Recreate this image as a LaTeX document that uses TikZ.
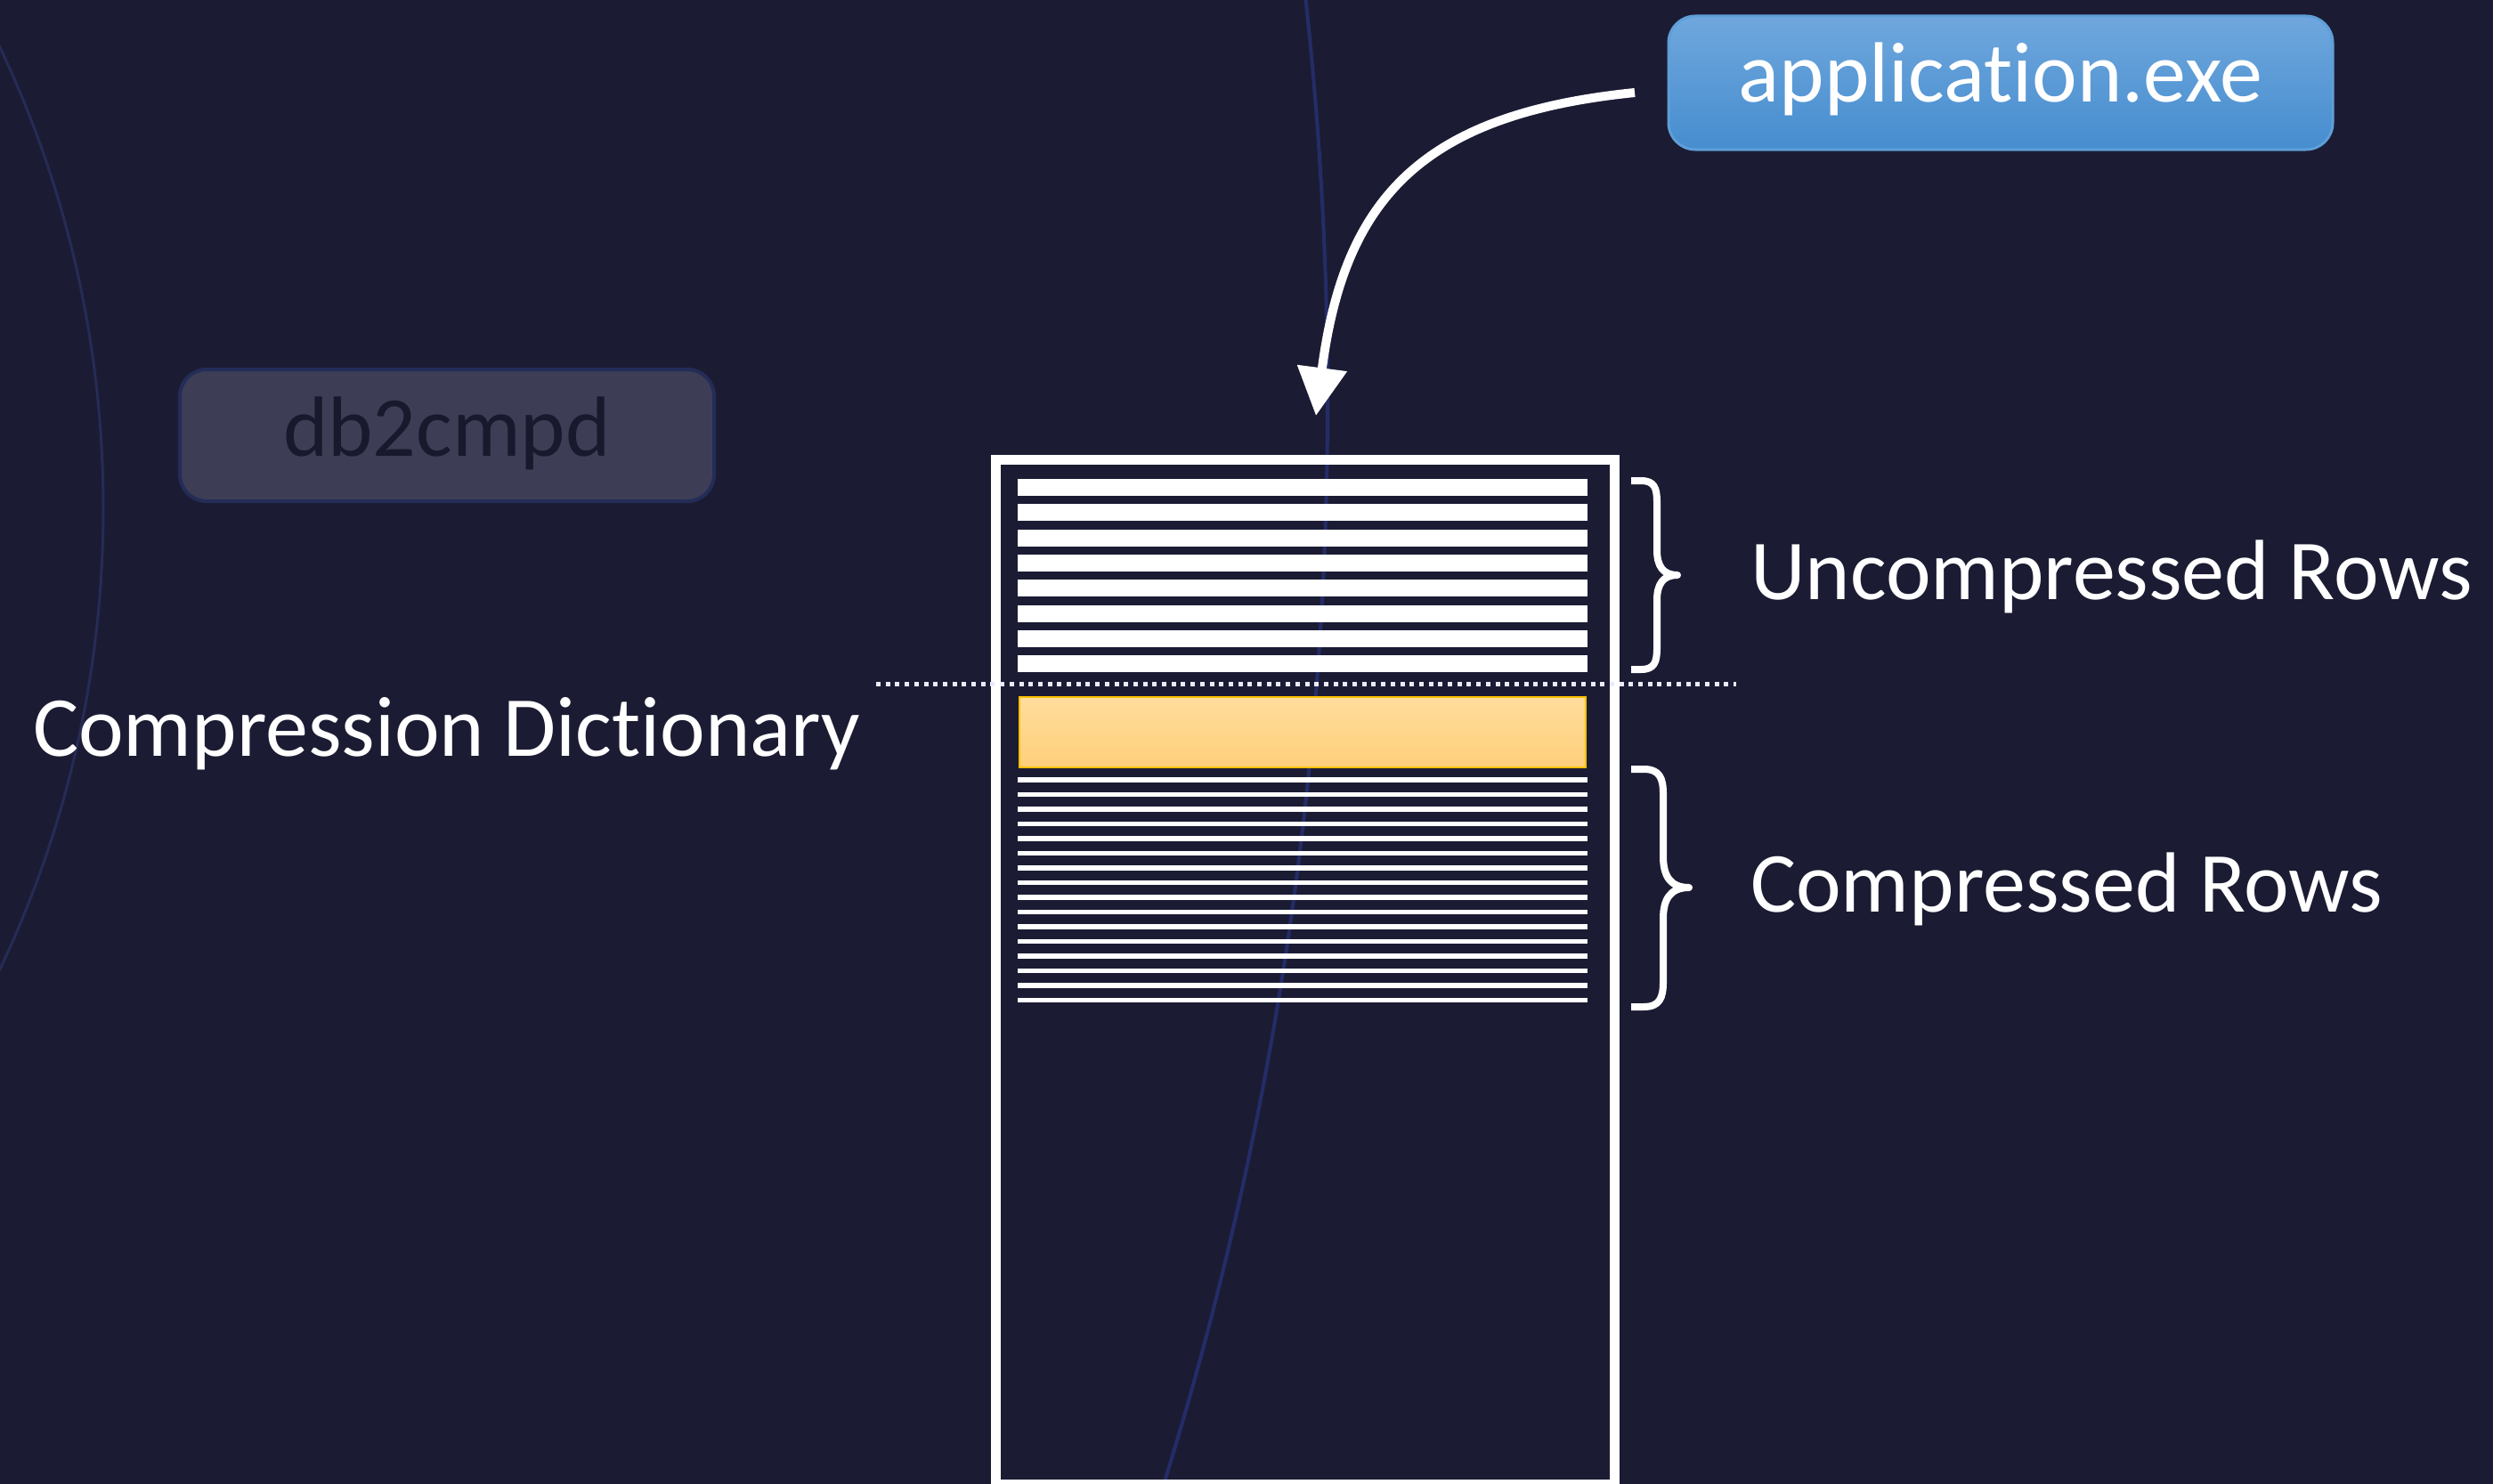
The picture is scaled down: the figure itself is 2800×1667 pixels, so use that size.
\documentclass[tikz,border=0pt]{standalone}
\usepackage{fontspec}
\setmainfont{Carlito}[Ligatures={NoCommon,NoRequired}]
\usetikzlibrary{arrows.meta}

\definecolor{bgnavy}{RGB}{27,28,51}
\definecolor{arcfaint}{RGB}{38,43,86}
\definecolor{arcblue}{RGB}{36,44,104}
\definecolor{apptop}{RGB}{111,167,221}
\definecolor{appbot}{RGB}{70,141,207}
\definecolor{appedge}{RGB}{95,158,216}
\definecolor{toolfill}{RGB}{61,62,85}
\definecolor{tooledge}{RGB}{36,44,88}
\definecolor{tooltext}{RGB}{24,25,45}
\definecolor{dicttop}{RGB}{255,221,156}
\definecolor{dictbot}{RGB}{254,207,122}
\definecolor{dictedge}{RGB}{255,192,0}

\begin{document}
\begin{tikzpicture}[x=1pt,y=-1pt,
  bigfont/.style={font=\fontsize{96pt}{115pt}\selectfont},
  caption/.style={bigfont,text=white,inner sep=0pt,anchor=base west},
  appbox/.style={bigfont,text=white,rounded corners=30pt,draw=appedge,line width=3pt,
    top color=apptop,bottom color=appbot,minimum width=746pt,minimum height=150pt,
    inner sep=0pt,text height=64pt,text depth=20pt},
  toolbox/.style={bigfont,text=tooltext,rounded corners=30pt,draw=tooledge,line width=4pt,
    fill=toolfill,minimum width=600pt,minimum height=148pt,
    inner sep=0pt,text height=64pt,text depth=18pt},
  tableframe/.style={draw=white,line width=11pt,inner sep=0pt,outer sep=0pt,anchor=north west},
  thinrow/.style={draw=white,line width=5.5pt},
  bracestroke/.style={draw=white,line width=8pt,line join=round},
  splitline/.style={draw=white!92!blue,line width=5pt,dash pattern=on 5pt off 5.7pt},
  fetch/.style={draw=white,line width=10pt,-{Triangle[length=54pt,width=54pt]}}
]
% canvas
\fill[bgnavy] (0,0) rectangle (2800,1667);
\useasboundingbox (0,0) rectangle (2800,1667);

% faint background arcs
\begin{scope}
  \clip (0,0) rectangle (2800,1667);
  \draw[arcfaint,line width=3pt] (-1094,571) circle[radius=1210pt];
  \draw[arcblue,line width=4pt] (-2604,450) circle[radius=4095pt];
\end{scope}

% labels and tool boxes
\node[appbox] (app) at (2247,93) {application.exe};
\node[toolbox] (tool) at (502,489) {db2cmpd};
\node[caption] (dictlabel) at (37,849) {Compression Dictionary};
\node[caption] (uncomplabel) at (1966,673) {Uncompressed Rows};
\node[caption] (complabel) at (1966,1024) {Compressed Rows};

% table page frame
\node[tableframe,minimum width=694.5pt,minimum height=1151pt] (table) at (1118.5,516.5) {};

% uncompressed rows
\foreach \k in {0,...,7}
  \fill[white] (1143,{538+28.3*\k}) rectangle (1783,{557+28.3*\k});

% compression dictionary
\draw[draw=dictedge,line width=2.5pt,top color=dicttop,bottom color=dictbot]
  (1145,783) rectangle (1781,862);

% compressed rows
\foreach \k in {0,...,15}
  \draw[thinrow] (1143,{876+16.5*\k}) -- (1783,{876+16.5*\k});

% separator between rows and dictionary
\coordinate (splitL) at (984,768);
\coordinate (splitR) at (1950,768);
\draw[splitline] (splitL) -- (splitR);

% braces
\draw[bracestroke] (1832,540) -- (1843,540)
  .. controls (1858,540) and (1861,548) .. (1861,564) -- (1861,618)
  .. controls (1861,636) and (1868,646) .. (1884,646)
  .. controls (1868,646) and (1861,656) .. (1861,674) -- (1861,728)
  .. controls (1861,744) and (1858,752) .. (1843,752) -- (1832,752);
\draw[bracestroke] (1832,864) -- (1846,864)
  .. controls (1864,864) and (1868,874) .. (1868,892) -- (1868,962)
  .. controls (1868,984) and (1876,997) .. (1897,997)
  .. controls (1876,997) and (1868,1010) .. (1868,1032) -- (1868,1103)
  .. controls (1868,1121) and (1864,1131) .. (1846,1131) -- (1832,1131);

% application reads the page
\coordinate (arrowstart) at (1836,104);
\coordinate (arrowtip) at (1478,467);
\draw[fetch] (arrowstart) .. controls (1600,128) and (1510,220) .. (arrowtip);
\end{tikzpicture}
\end{document}
